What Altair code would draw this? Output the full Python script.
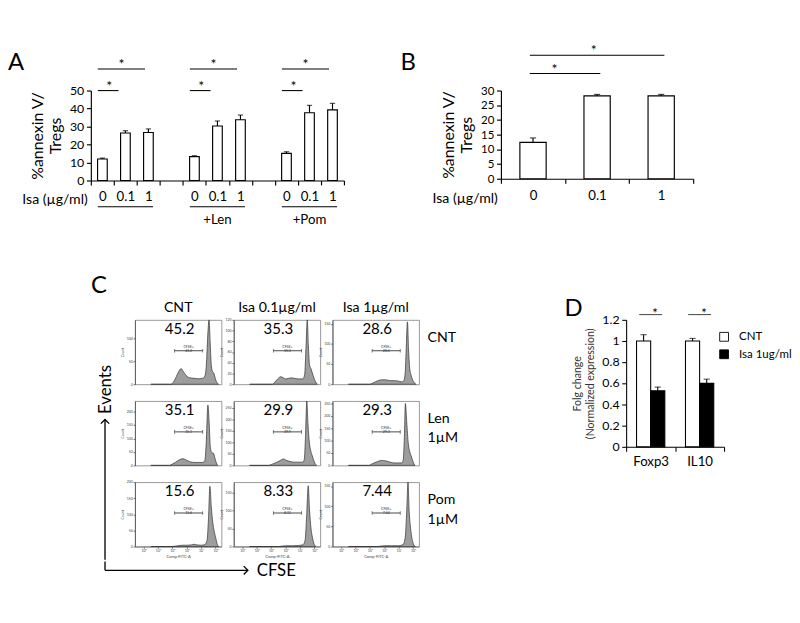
import altair as alt
import pandas as pd

# ---------------- data: panel A ----------------
A_CATS = ["0|a", "0.1|a", "1|a", "gap1", "0|l", "0.1|l", "1|l", "gap2", "0|p", "0.1|p", "1|p"]
A_BAR_CATS = ["0|a", "0.1|a", "1|a", "0|l", "0.1|l", "1|l", "0|p", "0.1|p", "1|p"]
A_MEANS = [12.0, 26.4, 26.7, 13.3, 30.3, 33.8, 15.1, 37.7, 39.3]
A_ERRS = [0.5, 1.3, 2.0, 0.5, 2.8, 2.6, 0.9, 4.1, 3.6]
A_FIRST = ["0|a", "0|l", "0|p"]
A_MID = ["0.1|a", "0.1|l", "0.1|p"]
A_LAST = ["1|a", "1|l", "1|p"]
A_GROUP_LABELS = ["", "+Len", "+Pom"]
A_SIG_SHORT = [50, 50, 50]
A_SIG_LONG = [62, 62, 62]

# ---------------- data: panel B ----------------
B_CATS = ["0", "0.1", "1"]
B_MEANS = [12.4, 28.2, 28.2]
B_ERRS = [1.5, 0.5, 0.5]
B_SIG_FROM = ["0", "0"]
B_SIG_TO = ["0.1", "1"]
B_SIG_LEVEL = [35.8, 42.0]

# ---------------- data: panel C ----------------
C_COLS = ["CNT", "Isa 0.1µg/ml", "Isa 1µg/ml"]
C_ROWS = ["CNT", "Len|1µM", "Pom|1µM"]
C_PCT = [["45.2", "35.3", "28.6"], ["35.1", "29.9", "29.3"], ["15.6", "8.33", "7.44"]]
C_GATE_LO = 2.15
C_GATE_HI = 4.1

H11_X = [0.5, 1.9, 2.05, 2.2, 2.35, 2.5, 2.6, 2.75, 2.95, 3.2, 3.5, 3.8, 4.1, 4.25, 4.35, 4.45, 4.54, 4.62, 4.7, 4.78, 4.88, 4.98, 5.1, 5.2]
H11_Y = [0, 0, 4, 12, 22, 31, 34, 28, 19, 14, 13, 12, 13, 18, 40, 105, 140, 90, 40, 28, 24, 12, 3, 0]
H12_X = [0.5, 2.1, 2.25, 2.45, 2.66, 2.85, 3.0, 3.2, 3.41, 3.6, 3.9, 4.2, 4.32, 4.42, 4.5, 4.58, 4.66, 4.76, 4.9, 5.05, 5.2]
H12_Y = [0, 0, 4, 10, 14, 12, 10, 11, 12, 11, 10, 10, 18, 72, 120, 72, 36, 29, 17, 6, 0]
H13_X = [0.5, 2.0, 2.2, 2.5, 2.8, 3.1, 3.4, 3.7, 3.95, 4.2, 4.35, 4.45, 4.52, 4.6, 4.68, 4.76, 4.85, 4.95, 5.1, 5.2]
H13_Y = [0, 0, 3, 8, 11, 11, 9, 9, 8, 6, 9, 31, 93, 155, 85, 39, 23, 12, 3, 0]
H21_X = [0.5, 1.8, 2.0, 2.2, 2.45, 2.74, 2.95, 3.2, 3.5, 3.8, 4.1, 4.25, 4.35, 4.46, 4.55, 4.63, 4.74, 4.85, 4.95, 5.05, 5.15]
H21_Y = [0, 0, 5, 11, 20, 25, 20, 14, 11, 11, 11, 18, 90, 225, 158, 68, 47, 45, 27, 9, 0]
H22_X = [0.5, 1.8, 2.1, 2.4, 2.65, 2.84, 3.05, 3.3, 3.6, 3.9, 4.2, 4.3, 4.38, 4.47, 4.55, 4.65, 4.75, 4.85, 5.0, 5.15]
H22_Y = [0, 0, 6, 14, 22, 28, 22, 17, 14, 14, 14, 28, 126, 280, 182, 98, 62, 42, 14, 0]
H23_X = [0.5, 1.9, 2.2, 2.5, 2.8, 3.1, 3.4, 3.7, 4.0, 4.2, 4.3, 4.38, 4.46, 4.55, 4.66, 4.76, 4.86, 5.0, 5.12]
H23_Y = [0, 0, 8, 15, 20, 18, 13, 10, 10, 10, 20, 100, 250, 175, 88, 55, 38, 13, 0]
H31_X = [0.5, 2.0, 2.3, 2.7, 3.0, 3.3, 3.5, 3.7, 4.0, 4.25, 4.4, 4.5, 4.6, 4.7, 4.8, 4.9, 5.0, 5.1, 5.2]
H31_Y = [0, 0, 2, 4, 4, 5, 7, 5, 4, 6, 19, 84, 187, 122, 75, 47, 28, 9, 0]
H32_X = [0.5, 2.5, 3.0, 3.5, 3.9, 4.2, 4.35, 4.45, 4.57, 4.66, 4.76, 4.86, 4.96, 5.1]
H32_Y = [0, 0, 2, 2, 3, 5, 17, 77, 170, 102, 51, 26, 9, 0]
H33_X = [0.5, 2.5, 3.0, 3.5, 4.0, 4.3, 4.45, 4.55, 4.64, 4.72, 4.82, 4.92, 5.02, 5.15]
H33_Y = [0, 0, 2, 2, 2, 5, 24, 88, 160, 88, 45, 19, 6, 0]
HISTS = [[(H11_X, H11_Y), (H12_X, H12_Y), (H13_X, H13_Y)],
         [(H21_X, H21_Y), (H22_X, H22_Y), (H23_X, H23_Y)],
         [(H31_X, H31_Y), (H32_X, H32_Y), (H33_X, H33_Y)]]

# ---------------- data: panel D ----------------
D_GENES = ["Foxp3", "IL10"]
D_SERIES = ["CNT", "Isa 1ug/ml"]
D_CNT = [1.0, 1.0]
D_CNT_ERR = [0.06, 0.025]
D_ISA = [0.53, 0.60]
D_ISA_ERR = [0.035, 0.04]
D_SIG_LEVEL = [1.25, 1.25]

BLACK = dict(labelColor="black", titleColor="black", domainColor="black", tickColor="black")
one = pd.DataFrame({"k": [0]})

# =============== Panel A ===============
a_df = pd.DataFrame({"cat": A_BAR_CATS, "mean": A_MEANS, "err": A_ERRS})
a_grp = pd.DataFrame({"first": A_FIRST, "mid": A_MID, "last": A_LAST, "label": A_GROUP_LABELS,
                      "short": A_SIG_SHORT, "long": A_SIG_LONG})
xsA = alt.Scale(domain=A_CATS, paddingInner=0, paddingOuter=0)
ysA = alt.Scale(domain=[0, 50], nice=False)
axA_x = alt.Axis(
    title="Isa (µg/ml)", titleX=-4, titleY=21, titleAlign="right", titleBaseline="middle",
    titleFontSize=16, titleFontWeight="normal",
    labelExpr="(isString(datum.value) && indexof(datum.value, '|') >= 0) ? split(datum.value, '|')[0] : ''",
    labelAngle=0, labelFontSize=15, labelPadding=6, tickSize=5, tickBand="extent",
    domainWidth=1.3, tickWidth=1.3, **BLACK)
axA_y = alt.Axis(
    values=[0, 10, 20, 30, 40, 50], title=["%annexin V/", "Tregs"], titleFontSize=18,
    titleFontWeight="normal", titleLineHeight=21, titlePadding=6, labelFontSize=14,
    tickSize=5, grid=False, labelPadding=3, domainWidth=1.3, tickWidth=1.3, **BLACK)


def XA(f, bp=None):
    if bp is None:
        return alt.X(f, scale=xsA, axis=axA_x)
    return alt.X(f, scale=xsA, axis=axA_x, bandPosition=bp)


def YA(f):
    return alt.Y(f, scale=ysA, axis=axA_y)


a_bars = alt.Chart(a_df).mark_bar(fill="white", stroke="black", strokeWidth=1.3,
                                  width=alt.RelativeBandSize(0.42)).encode(x=XA("cat:N"), y=YA("mean:Q"))
a_err = alt.Chart(a_df).transform_calculate(top="datum.mean + datum.err").mark_rule(
    color="black", strokeWidth=1.3).encode(x=XA("cat:N"), y=YA("mean:Q"), y2="top:Q")
a_cap = alt.Chart(a_df).transform_calculate(top="datum.mean + datum.err").mark_tick(
    color="black", thickness=1.3, size=6).encode(x=XA("cat:N"), y=YA("top:Q"))
a_sig_s = alt.Chart(a_grp).mark_rule(color="black", strokeWidth=1.2).encode(
    x=XA("first:N", 0.3), x2=alt.X2("mid:N", bandPosition=0.2), y=YA("short:Q"))
a_sig_l = alt.Chart(a_grp).mark_rule(color="black", strokeWidth=1.2).encode(
    x=XA("first:N", 0.3), x2=alt.X2("last:N", bandPosition=0.35), y=YA("long:Q"))
a_star_s = alt.Chart(a_grp).mark_text(text="*", fontSize=16, baseline="alphabetic").encode(
    x=XA("first:N", 0.8), y=YA("short:Q"))
a_star_l = alt.Chart(a_grp).mark_text(text="*", fontSize=16, baseline="alphabetic").encode(
    x=XA("mid:N", 0.33), y=YA("long:Q"))
a_under = alt.Chart(a_grp).mark_rule(color="black", strokeWidth=1.2).encode(
    x=XA("first:N", 0.3), x2=alt.X2("last:N", bandPosition=0.7),
    y=alt.YDatum(-14.6, scale=ysA, axis=axA_y))
a_glab = alt.Chart(a_grp).mark_text(fontSize=15, baseline="middle").encode(
    x=XA("mid:N"), y=alt.YDatum(-21.5, scale=ysA, axis=axA_y), text="label:N")
a_letter = alt.Chart(one).mark_text(text="A", fontSize=27, align="left", baseline="alphabetic",
                                    dx=-94).encode(
    x=alt.XDatum("0|a", scale=xsA, axis=axA_x, bandPosition=0),
    y=alt.YDatum(61.2, scale=ysA, axis=axA_y))

chartA = alt.layer(a_bars, a_err, a_cap, a_sig_s, a_sig_l, a_star_s, a_star_l, a_under, a_glab,
                   a_letter).properties(width=287, height=102)

# =============== Panel B ===============
b_df = pd.DataFrame({"cat": B_CATS, "mean": B_MEANS, "err": B_ERRS})
b_sig = pd.DataFrame({"from": B_SIG_FROM, "to": B_SIG_TO, "level": B_SIG_LEVEL})
xsB = alt.Scale(domain=B_CATS, paddingInner=0, paddingOuter=0)
ysB = alt.Scale(domain=[0, 30], nice=False)
axB_x = alt.Axis(
    title="Isa (µg/ml)", titleX=-4, titleY=22, titleAlign="right", titleBaseline="middle",
    titleFontSize=16, titleFontWeight="normal", labelAngle=0, labelFontSize=15, labelPadding=6,
    tickSize=5, tickBand="extent", domainWidth=1.3, tickWidth=1.3, **BLACK)
axB_y = alt.Axis(
    values=[0, 5, 10, 15, 20, 25, 30], title=["%annexin V/", "Tregs"], titleFontSize=18,
    titleFontWeight="normal", titleLineHeight=21, titlePadding=6, labelFontSize=13,
    tickSize=5, grid=False, labelPadding=3, domainWidth=1.3, tickWidth=1.3, **BLACK)


def XB(f, bp=None):
    if bp is None:
        return alt.X(f, scale=xsB, axis=axB_x)
    return alt.X(f, scale=xsB, axis=axB_x, bandPosition=bp)


def YB(f):
    return alt.Y(f, scale=ysB, axis=axB_y)


b_bars = alt.Chart(b_df).mark_bar(fill="white", stroke="black", strokeWidth=1.3,
                                  width=alt.RelativeBandSize(0.41)).encode(x=XB("cat:N"), y=YB("mean:Q"))
b_err = alt.Chart(b_df).transform_calculate(top="datum.mean + datum.err").mark_rule(
    color="black", strokeWidth=1.3).encode(x=XB("cat:N"), y=YB("mean:Q"), y2="top:Q")
b_cap = alt.Chart(b_df).transform_calculate(top="datum.mean + datum.err").mark_tick(
    color="black", thickness=1.3, size=7).encode(x=XB("cat:N"), y=YB("top:Q"))
b_line = alt.Chart(b_sig).mark_rule(color="black", strokeWidth=1.2).encode(
    x=XB("from:N", 0.45), x2=alt.X2("to:N", bandPosition=0.55), y=YB("level:Q"))
b_star_s = alt.Chart(b_sig).transform_filter("datum.to == '0.1'").mark_text(
    text="*", fontSize=16, baseline="alphabetic", dx=-12).encode(x=XB("to:N", 0.0), y=YB("level:Q"))
b_star_l = alt.Chart(b_sig).transform_filter("datum.to == '1'").mark_text(
    text="*", fontSize=16, baseline="alphabetic", dx=-40).encode(x=XB("to:N", 0.0), y=YB("level:Q"))
b_letter = alt.Chart(one).mark_text(text="B", fontSize=27, align="left", baseline="alphabetic",
                                    dx=-114).encode(
    x=alt.XDatum("0", scale=xsB, axis=axB_x, bandPosition=0),
    y=alt.YDatum(36.9, scale=ysB, axis=axB_y))
chartB = alt.layer(b_bars, b_err, b_cap, b_line, b_star_s, b_star_l, b_letter).properties(
    width=218, height=100)

# =============== Panel C ===============
rows = []
for ri, treat in enumerate(C_ROWS):
    for ci, isa in enumerate(C_COLS):
        hx, hy = HISTS[ri][ci]
        for xv_, yv_ in zip(hx, hy):
            rows.append({"kind": "hist", "isa": isa, "treat": treat, "x": xv_, "count": yv_})
        rows.append({"kind": "gate", "isa": isa, "treat": treat, "lo": C_GATE_LO,
                     "hi": C_GATE_HI, "label": C_PCT[ri][ci]})
c_df = pd.DataFrame(rows)

xsC = alt.Scale(domain=[-0.6, 5.4], nice=False, zero=False)
GREY = dict(labelColor="#444", titleColor="#444", domainColor="#555", tickColor="#555")
axC_x = alt.Axis(
    values=[0, 1, 2, 3, 4, 5],
    labelExpr="'10' + (datum.value == 0 ? '⁰' : datum.value == 1 ? '¹' : datum.value == 2 ? '²' : "
              "datum.value == 3 ? '³' : datum.value == 4 ? '⁴' : '⁵')",
    title="Comp-FITC-A", titleFontSize=4.5, titleFontWeight="normal", titlePadding=1,
    labelFontSize=4, labelPadding=1, tickSize=2, grid=False, **GREY)
yC = alt.Y("count:Q", axis=alt.Axis(
    tickCount=4, title="Count", titleFontSize=4, titleFontWeight="normal", titlePadding=2,
    labelFontSize=4, labelPadding=1, tickSize=2, grid=False, **GREY))

c_base = alt.Chart()
c_area = c_base.transform_filter("datum.kind == 'hist'").mark_area(
    fill="#9d9d9d", stroke="#333333", strokeWidth=0.8, interpolate="monotone").encode(
    x=alt.X("x:Q", scale=xsC, axis=axC_x), y=yC)
c_gate = c_base.transform_filter("datum.kind == 'gate'").mark_rule(color="#333", strokeWidth=1).encode(
    x=alt.X("lo:Q", scale=xsC, axis=axC_x), x2="hi:Q", y=alt.value(35))
c_caps = c_base.transform_filter("datum.kind == 'gate'").transform_fold(
    ["lo", "hi"], as_=["end", "pos"]).mark_tick(orient="vertical", size=4, thickness=1, color="#333").encode(
    x=alt.X("pos:Q", scale=xsC, axis=axC_x), y=alt.value(35))
c_tiny = c_base.transform_filter("datum.kind == 'gate'").transform_calculate(
    mid="(datum.lo + datum.hi) / 2", tiny="'CFSE+|' + datum.label").mark_text(
    fontSize=4, lineBreak="|", baseline="bottom", lineHeight=4.5, color="#333").encode(
    x=alt.X("mid:Q", scale=xsC, axis=axC_x), y=alt.value(33), text="tiny:N")
c_big = c_base.transform_filter("datum.kind == 'gate'").mark_text(
    fontSize=17, baseline="middle", color="black").encode(
    x=alt.XDatum(2.5, scale=xsC, axis=axC_x), y=alt.value(11), text="label:N")
c_rowlab = c_base.transform_filter("datum.kind == 'gate' && datum.isa == 'Isa 1µg/ml'").mark_text(
    fontSize=16, align="left", baseline="top", lineBreak="|", lineHeight=22, color="black").encode(
    x=alt.XDatum(6.0, scale=xsC, axis=axC_x), y=alt.value(12), text="treat:N")

cells = alt.layer(c_area, c_gate, c_caps, c_tiny, c_big, c_rowlab).properties(
    width=98, height=73, view=alt.ViewBackground(stroke="#8c8c8c", strokeWidth=1))
facetC = cells.facet(
    data=c_df,
    column=alt.Column("isa:N", sort=C_COLS, header=alt.Header(title=None, labelFontSize=16,
                                                                labelPadding=6, labelColor="black")),
    row=alt.Row("treat:N", sort=C_ROWS, header=alt.Header(title=None, labels=False)),
    spacing={"row": 19, "column": 14}, bounds="flush").resolve_scale(y="independent")

xv = alt.Scale(domain=[0, 24])
yv = alt.Scale(domain=[0, 1])
v_line = alt.Chart(one).mark_rule(color="black", strokeWidth=1.5).encode(
    x=alt.XDatum(16, scale=xv, axis=None), y=alt.YDatum(0, scale=yv, axis=None), y2=alt.Y2Datum(0.585))
v_head = alt.Chart(one).mark_point(shape="M-1,1L0,0L1,1", size=90, filled=False, strokeWidth=1.5,
                                   color="black", opacity=1).encode(
    x=alt.XDatum(16, scale=xv, axis=None), y=alt.YDatum(0.585, scale=yv, axis=None))
v_text = alt.Chart(one).mark_text(text="Events", angle=270, fontSize=19, color="black").encode(
    x=alt.XDatum(17, scale=xv, axis=None), y=alt.YDatum(0.71, scale=yv, axis=None))
vert = alt.layer(v_line, v_head, v_text).properties(width=24, height=272)

h_stub = alt.Chart(one).mark_rule(color="black", strokeWidth=1.5).encode(
    x=alt.XDatum(16, scale=xv, axis=None), y=alt.YDatum(0.5, scale=yv, axis=None), y2=alt.Y2Datum(1))
h_line = alt.Chart(one).mark_rule(color="black", strokeWidth=1.5).encode(
    x=alt.XDatum(16, scale=xv, axis=None), x2=alt.X2Datum(178), y=alt.YDatum(0.5, scale=yv, axis=None))
h_head = alt.Chart(one).mark_point(shape="M-1,-1L0,0L-1,1", size=90, filled=False, strokeWidth=1.5,
                                   color="black", opacity=1).encode(
    x=alt.XDatum(178, scale=xv, axis=None), y=alt.YDatum(0.5, scale=yv, axis=None))
h_text = alt.Chart(one).mark_text(text="CFSE", fontSize=19, align="left", baseline="middle",
                                  color="black").encode(
    x=alt.XDatum(188, scale=xv, axis=None), y=alt.YDatum(0.5, scale=yv, axis=None))
horiz = alt.layer(h_stub, h_line, h_head, h_text).properties(width=24, height=20)

groupC = alt.vconcat(alt.hconcat(vert, facetC, spacing=6), horiz, spacing=0,
                     title=alt.TitleParams("C", anchor="start", frame="bounds", fontSize=27,
                                           fontWeight="normal", color="black", offset=2))

# =============== Panel D ===============
d_df = pd.DataFrame({"gene": D_GENES + D_GENES,
                     "series": [D_SERIES[0]] * 2 + [D_SERIES[1]] * 2,
                     "mean": D_CNT + D_ISA, "err": D_CNT_ERR + D_ISA_ERR})
d_sig = pd.DataFrame({"gene": D_GENES, "level": D_SIG_LEVEL})
xsD = alt.Scale(domain=D_GENES, paddingInner=0, paddingOuter=0)
ysD = alt.Scale(domain=[0, 1.2], nice=False)
xoD = alt.XOffset("series:N", scale=alt.Scale(domain=D_SERIES, paddingInner=0, paddingOuter=0.73))
axD_x = alt.Axis(
    title=None, tickBand="extent", labelAngle=0, labelFontSize=15, labelPadding=4, tickSize=5,
    domainWidth=1.2, tickWidth=1.2, **BLACK)
axD_y = alt.Axis(
    values=[0, 0.2, 0.4, 0.6, 0.8, 1.0, 1.2], format="~g",
    title=["Folg change", "(Normalized  expression)"], titleFontSize=12, titleFontWeight="normal",
    titleLineHeight=15, titlePadding=6, labelFontSize=14, tickSize=5, grid=False, labelPadding=3,
    domainWidth=1.2, tickWidth=1.2, labelColor="black", titleColor="#333", domainColor="black",
    tickColor="black")


def XD(f, bp=None):
    if bp is None:
        return alt.X(f, scale=xsD, axis=axD_x)
    return alt.X(f, scale=xsD, axis=axD_x, bandPosition=bp)


def YD(f):
    return alt.Y(f, scale=ysD, axis=axD_y)


d_bars = alt.Chart(d_df).mark_bar(stroke="black", strokeWidth=1.2).encode(
    x=XD("gene:N"), xOffset=xoD, y=YD("mean:Q"),
    fill=alt.Fill("series:N", scale=alt.Scale(domain=D_SERIES, range=["white", "black"]), legend=None))
d_err = alt.Chart(d_df).transform_calculate(top="datum.mean + datum.err").mark_rule(
    color="black", strokeWidth=1.2).encode(x=XD("gene:N"), xOffset=xoD, y=YD("mean:Q"), y2="top:Q")
d_cap = alt.Chart(d_df).transform_calculate(top="datum.mean + datum.err").mark_tick(
    color="black", thickness=1.2, size=7).encode(x=XD("gene:N"), xOffset=xoD, y=YD("top:Q"))
d_line = alt.Chart(d_sig).mark_tick(color="black", thickness=1.2, size=26).encode(
    x=XD("gene:N", 0.59), y=YD("level:Q"))
d_star = alt.Chart(d_sig).mark_text(text="*", fontSize=15, baseline="alphabetic", dy=4).encode(
    x=XD("gene:N", 0.59), y=YD("level:Q"))
# legend drawn as marks: square + label for each series
d_leg1 = alt.Chart(one).mark_square(size=100, fill="white", stroke="black", strokeWidth=1,
                                    opacity=1, dx=9).encode(
    x=alt.XDatum("IL10", scale=xsD, axis=axD_x, bandPosition=1),
    y=alt.YDatum(1.04, scale=ysD, axis=axD_y))
d_leg2 = alt.Chart(one).mark_square(size=100, fill="black", stroke="black", strokeWidth=1,
                                    opacity=1, dx=9).encode(
    x=alt.XDatum("IL10", scale=xsD, axis=axD_x, bandPosition=1),
    y=alt.YDatum(0.875, scale=ysD, axis=axD_y))
d_leg1t = alt.Chart(one).mark_text(text=D_SERIES[0], fontSize=13, align="left", baseline="middle",
                                   dx=17).encode(
    x=alt.XDatum("IL10", scale=xsD, axis=axD_x, bandPosition=1),
    y=alt.YDatum(1.04, scale=ysD, axis=axD_y))
d_leg2t = alt.Chart(one).mark_text(text=D_SERIES[1], fontSize=13, align="left", baseline="middle",
                                   dx=17).encode(
    x=alt.XDatum("IL10", scale=xsD, axis=axD_x, bandPosition=1),
    y=alt.YDatum(0.875, scale=ysD, axis=axD_y))
d_letter = alt.Chart(one).mark_text(text="D", fontSize=27, align="left", baseline="alphabetic",
                                    dx=-70).encode(
    x=alt.XDatum("Foxp3", scale=xsD, axis=axD_x, bandPosition=0),
    y=alt.YDatum(1.233, scale=ysD, axis=axD_y))
chartD = alt.layer(d_bars, d_err, d_cap, d_line, d_star, d_leg1, d_leg2, d_leg1t, d_leg2t,
                   d_letter).properties(width=111, height=144)

# =============== layout ===============
top_row = alt.hconcat(chartA, chartB, spacing=178, bounds="flush")
bottom_row = alt.concat(groupC, chartD, columns=2, spacing=120, align="none")
chart = alt.concat(top_row, bottom_row, columns=1, spacing=54, align="none").properties(
    padding=0).configure(font="Lato").configure_view(stroke=None).configure_axis(grid=False)

chart.save("out.html", embed_options={"renderer": "svg", "actions": False})
